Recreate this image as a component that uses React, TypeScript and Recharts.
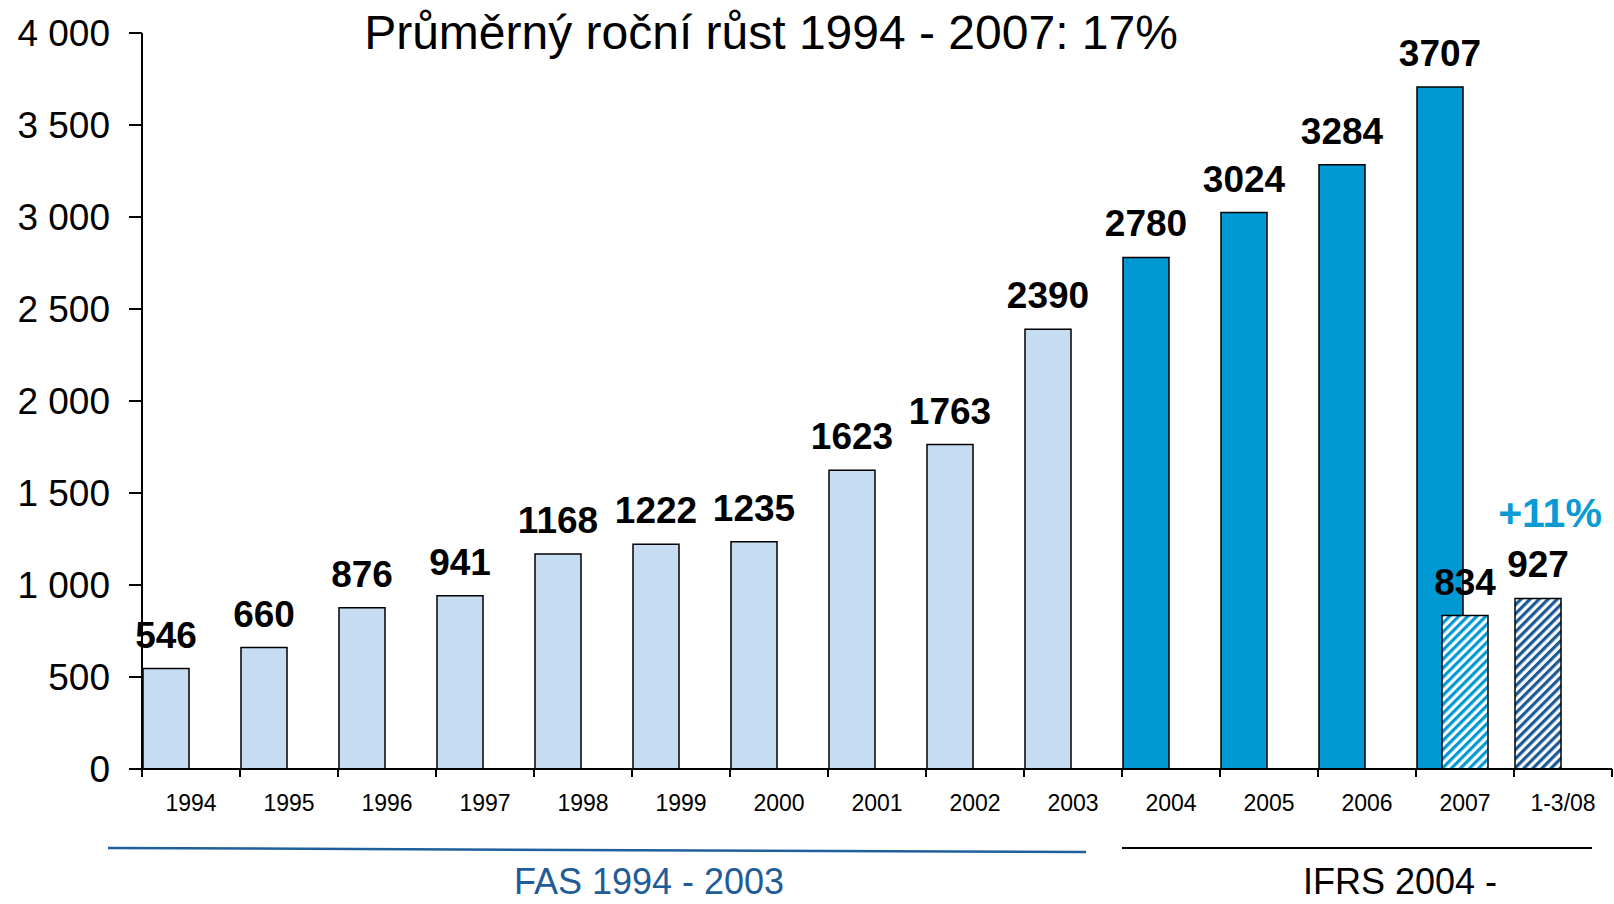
import React from "react";
import {
  BarChart,
  Bar,
  XAxis,
  YAxis,
  Cell,
  LabelList,
} from "recharts";

// values (mil. CZK)
const categories = [
  "1994", "1995", "1996", "1997", "1998", "1999", "2000", "2001",
  "2002", "2003", "2004", "2005", "2006", "2007", "1-3/08",
];
const totals = [546, 660, 876, 941, 1168, 1222, 1235, 1623, 1763, 2390, 2780, 3024, 3284, 3707, 927];
const firstQuarter = [null, null, null, null, null, null, null, null, null, null, null, null, null, 834, null];
const standards = ["FAS", "FAS", "FAS", "FAS", "FAS", "FAS", "FAS", "FAS", "FAS", "FAS", "IFRS", "IFRS", "IFRS", "IFRS", "IFRS"];
const periods = ["year", "year", "year", "year", "year", "year", "year", "year", "year", "year", "year", "year", "year", "year", "quarter"];
const yTicks = [0, 500, 1000, 1500, 2000, 2500, 3000, 3500, 4000];

const W = 1614;
const H = 904;
const AXIS_W = 142;
const RIGHT = 2;
const BAND = (W - AXIS_W - RIGHT) / categories.length;
const FONT = "'Liberation Sans', Arial, sans-serif";

const LIGHT = "#C6DCF2";
const DARK = "#0099D4";

const data = categories.map((c, i) => ({
  category: c,
  total: totals[i],
  q1: firstQuarter[i],
}));

const fillFor = (i: number) => {
  if (periods[i] === "quarter") return "url(#hatchNavy)";
  return standards[i] === "FAS" ? LIGHT : DARK;
};

const fmt = (v: number) => String(v).replace(/\B(?=(\d{3})+(?!\d))/g, " ");

function YearTick(props: any) {
  const { x, y, payload, index } = props;
  const half = BAND / 2;
  return (
    <g>
      <line x1={x - half} x2={x - half} y1={y - 8} y2={y} stroke="#000" strokeWidth={2} />
      {index === categories.length - 1 && (
        <line x1={x + half} x2={x + half} y1={y - 8} y2={y} stroke="#000" strokeWidth={2} />
      )}
      <text x={x} y={y} dy={34} textAnchor="middle" fontSize={23} fontFamily={FONT} fill="#000">
        {payload.value}
      </text>
    </g>
  );
}

const labelStyle = { fontSize: 37, fontWeight: 700, fontFamily: FONT, fill: "#000" };

export default function App() {
  return (
    <div style={{ position: "absolute", left: 0, top: 0, width: W, height: H, background: "#fff" }}>
      <svg width={0} height={0} style={{ position: "absolute" }}>
        <defs>
          <pattern id="hatchBlue" patternUnits="userSpaceOnUse" width={6.4} height={6.4} patternTransform="rotate(45)">
            <rect width={6.4} height={6.4} fill="#fff" />
            <rect width={3.2} height={6.4} fill={DARK} />
          </pattern>
          <pattern id="hatchNavy" patternUnits="userSpaceOnUse" width={6.4} height={6.4} patternTransform="rotate(45)">
            <rect width={6.4} height={6.4} fill="#fff" />
            <rect width={3.2} height={6.4} fill="#1B5A94" />
          </pattern>
        </defs>
      </svg>

      <BarChart
        width={W}
        height={H}
        data={data}
        margin={{ top: 33, right: RIGHT, left: 0, bottom: 95 }}
        barGap={4}
        barSize={46}
      >
        <XAxis
          dataKey="category"
          interval={0}
          height={40}
          axisLine={{ stroke: "#000", strokeWidth: 2 }}
          tickLine={false}
          tickSize={8}
          tickMargin={0}
          tick={<YearTick />}
        />
        <XAxis dataKey="category" xAxisId="q" hide />
        <YAxis
          width={AXIS_W}
          domain={[0, 4000]}
          ticks={yTicks}
          tickFormatter={fmt}
          axisLine={{ stroke: "#000", strokeWidth: 2 }}
          tickLine={{ stroke: "#000", strokeWidth: 2 }}
          tickSize={13}
          tickMargin={19}
          tick={{ fontSize: 37, fontFamily: FONT, fill: "#000" }}
        />
        <Bar dataKey="total" stroke="#000" strokeWidth={1.5} isAnimationActive={false}>
          {data.map((d, i) => (
            <Cell key={d.category} fill={fillFor(i)} />
          ))}
          <LabelList dataKey="total" position="top" offset={21} style={labelStyle} />
        </Bar>
        <Bar dataKey="spacer" isAnimationActive={false} legendType="none" />
        <Bar
          dataKey="q1"
          xAxisId="q"
          fill="url(#hatchBlue)"
          stroke="#000"
          strokeWidth={1.5}
          isAnimationActive={false}
        >
          <LabelList
            dataKey="q1"
            position="top"
            offset={21}
            style={labelStyle}
            formatter={(v: any) => (v == null ? "" : v)}
          />
        </Bar>
      </BarChart>

      <svg
        width={W}
        height={H}
        style={{ position: "absolute", left: 0, top: 0, pointerEvents: "none" }}
      >
        <text x={771} y={49} textAnchor="middle" fontSize={48} fontFamily={FONT} fill="#000">
          Průměrný roční růst 1994 - 2007: 17%
        </text>
        <text x={1550} y={527} textAnchor="middle" fontSize={41} fontWeight={700} fontFamily={FONT} fill="#0A9BD6">
          +11%
        </text>
        <line x1={108} y1={848} x2={1086} y2={852} stroke="#1F5F9B" strokeWidth={2.5} />
        <line x1={1122} y1={848} x2={1592} y2={848} stroke="#000" strokeWidth={2} />
        <text x={649} y={894} textAnchor="middle" fontSize={36} fontFamily={FONT} fill="#1F5C99">
          FAS 1994 - 2003
        </text>
        <text x={1400} y={894} textAnchor="middle" fontSize={36} fontFamily={FONT} fill="#000">
          IFRS 2004 -
        </text>
      </svg>
    </div>
  );
}
